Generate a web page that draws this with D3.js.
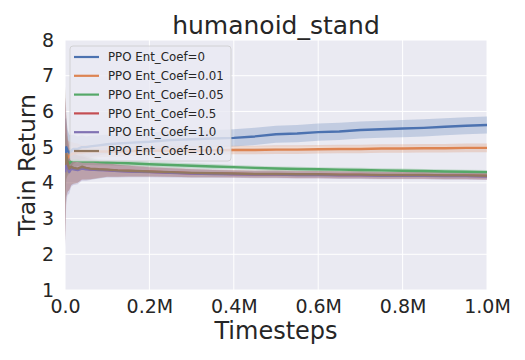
<!DOCTYPE html>
<html>
<head>
<meta charset="utf-8">
<script src="https://cdn.jsdelivr.net/npm/d3@7"></script>
<style>
  body { margin: 0; background: #fff; }
  svg { font-family: "DejaVu Sans", sans-serif; }
</style>
</head>
<body>
<div id="chart"></div>
<script>
// timesteps (millions)
const steps = [0, 0.003, 0.006, 0.01, 0.015, 0.02, 0.03, 0.04, 0.05, 0.06, 0.08, 0.1, 0.125, 0.15, 0.2, 0.25,
    0.3, 0.35, 0.4, 0.45, 0.5, 0.55, 0.6, 0.65, 0.7, 0.75, 0.8, 0.85, 0.9, 0.95, 1.0];

const labels = ['PPO Ent_Coef=0', 'PPO Ent_Coef=0.01', 'PPO Ent_Coef=0.05',
    'PPO Ent_Coef=0.5', 'PPO Ent_Coef=1.0', 'PPO Ent_Coef=10.0'];

// mean return per run
const mean0 = [4.6, 5.0, 4.9, 4.85, 4.9, 4.95, 4.95, 5.0, 5.0, 5.02, 5.05, 5.08, 5.1, 5.12, 5.15, 5.2,
    5.22, 5.24, 5.26, 5.3, 5.36, 5.38, 5.42, 5.44, 5.48, 5.5, 5.52, 5.54, 5.57, 5.6, 5.62];
const mean001 = [4.5, 4.8, 4.7, 4.75, 4.8, 4.82, 4.85, 4.85, 4.86, 4.87, 4.88, 4.88, 4.88, 4.89, 4.9, 4.9,
    4.9, 4.91, 4.92, 4.92, 4.93, 4.93, 4.94, 4.95, 4.95, 4.96, 4.96, 4.97, 4.97, 4.98, 4.98];
const mean005 = [4.4, 4.7, 4.6, 4.55, 4.6, 4.62, 4.62, 4.6, 4.6, 4.6, 4.58, 4.57, 4.56, 4.55, 4.52, 4.5,
    4.48, 4.46, 4.44, 4.42, 4.4, 4.39, 4.38, 4.37, 4.36, 4.35, 4.34, 4.33, 4.32, 4.31, 4.3];
const mean05 = [4.4, 4.7, 4.5, 4.35, 4.42, 4.4, 4.38, 4.42, 4.4, 4.38, 4.37, 4.36, 4.34, 4.33, 4.31, 4.29,
    4.27, 4.26, 4.25, 4.24, 4.24, 4.23, 4.23, 4.22, 4.22, 4.21, 4.21, 4.21, 4.2, 4.2, 4.19];
const mean1 = [4.3, 4.6, 4.45, 4.3, 4.4, 4.38, 4.36, 4.4, 4.38, 4.37, 4.36, 4.35, 4.33, 4.32, 4.3, 4.28,
    4.26, 4.25, 4.24, 4.23, 4.23, 4.22, 4.22, 4.21, 4.21, 4.2, 4.2, 4.2, 4.19, 4.19, 4.18];
const mean10 = [4.5, 4.8, 4.55, 4.4, 4.45, 4.42, 4.4, 4.45, 4.42, 4.4, 4.38, 4.37, 4.35, 4.34, 4.32, 4.3,
    4.28, 4.27, 4.26, 4.25, 4.25, 4.24, 4.24, 4.23, 4.23, 4.22, 4.22, 4.22, 4.21, 4.21, 4.2];

// spread (shaded band half-width)
const sd0 = [1.2, 0.8, 0.6, 0.5, 0.45, 0.4, 0.35, 0.33, 0.3, 0.3, 0.28, 0.27, 0.26, 0.25, 0.25, 0.25,
    0.24, 0.24, 0.24, 0.24, 0.24, 0.24, 0.24, 0.24, 0.24, 0.24, 0.24, 0.24, 0.24, 0.24, 0.24];
const sd001 = [1.2, 0.7, 0.5, 0.4, 0.35, 0.3, 0.25, 0.2, 0.2, 0.18, 0.16, 0.15, 0.15, 0.14, 0.14, 0.13,
    0.13, 0.13, 0.12, 0.12, 0.12, 0.12, 0.12, 0.12, 0.12, 0.12, 0.12, 0.12, 0.12, 0.12, 0.12];
const sd005 = [1.0, 0.6, 0.4, 0.3, 0.25, 0.2, 0.15, 0.12, 0.1, 0.1, 0.09, 0.08, 0.08, 0.08, 0.07, 0.07,
    0.07, 0.07, 0.06, 0.06, 0.06, 0.06, 0.06, 0.06, 0.06, 0.06, 0.06, 0.06, 0.06, 0.06, 0.06];
const sd05 = [2.0, 1.1, 0.75, 0.55, 0.48, 0.42, 0.38, 0.33, 0.3, 0.28, 0.23, 0.19, 0.17, 0.15, 0.13, 0.12,
    0.11, 0.1, 0.1, 0.1, 0.1, 0.1, 0.1, 0.1, 0.1, 0.1, 0.1, 0.1, 0.1, 0.1, 0.1];
const sd1 = [2.1, 1.15, 0.8, 0.6, 0.5, 0.44, 0.4, 0.34, 0.32, 0.29, 0.24, 0.2, 0.18, 0.16, 0.14, 0.13,
    0.12, 0.11, 0.1, 0.1, 0.1, 0.1, 0.1, 0.1, 0.1, 0.1, 0.1, 0.1, 0.1, 0.1, 0.1];
const sd10 = [2.2, 1.2, 0.8, 0.6, 0.5, 0.45, 0.4, 0.35, 0.33, 0.3, 0.25, 0.2, 0.18, 0.16, 0.14, 0.13,
    0.12, 0.11, 0.1, 0.1, 0.1, 0.1, 0.1, 0.1, 0.1, 0.1, 0.1, 0.1, 0.1, 0.1, 0.1];

const xTicks = [0, 0.2, 0.4, 0.6, 0.8, 1.0];
const xTickLabels = ['0.0', '0.2M', '0.4M', '0.6M', '0.8M', '1.0M'];
const yTicks = [1, 2, 3, 4, 5, 6, 7, 8];

const means = [mean0, mean001, mean005, mean05, mean1, mean10];
const sds = [sd0, sd001, sd005, sd05, sd1, sd10];
const colours = ['#4C72B0', '#DD8452', '#55A868', '#C44E52', '#8172B3', '#937860'];

const width = 525;
const height = 360;
const margin = {top: 40, right: 38, bottom: 70, left: 65};
const textColour = '#262626';

const svg = d3.select('#chart')
    .append('svg')
        .attr('width', width)
        .attr('height', height);

// SCALES
const x = d3.scaleLinear()
    .domain([0, 1])
    .range([margin.left, width - margin.right]);
const y = d3.scaleLinear()
    .domain([1, 8])
    .range([height - margin.bottom, margin.top]);

// background + grid
svg.append('rect')
    .attr('x', margin.left)
    .attr('y', margin.top)
    .attr('width', x(1) - x(0))
    .attr('height', y(1) - y(8))
    .attr('fill', '#EAEAF2');

const grid = svg.append('g').attr('stroke', '#fff').attr('stroke-width', 1);
grid.selectAll('.gx')
    .data(xTicks)
    .join('line')
        .attr('x1', d => x(d)).attr('x2', d => x(d))
        .attr('y1', y(1)).attr('y2', y(8));
grid.selectAll('.gy')
    .data(yTicks)
    .join('line')
        .attr('x1', x(0)).attr('x2', x(1))
        .attr('y1', d => y(d)).attr('y2', d => y(d));

// DRAWING TOOLS
const line = d3.line()
    .x((d, i) => x(steps[i]))
    .y(d => y(d));

const area = sd => d3.area()
    .x((d, i) => x(steps[i]))
    .y0((d, i) => y(d - sd[i]))
    .y1((d, i) => y(d + sd[i]));

svg.append('clipPath')
    .attr('id', 'clip')
    .append('rect')
        .attr('x', margin.left)
        .attr('y', margin.top)
        .attr('width', x(1) - x(0))
        .attr('height', y(1) - y(8));

const plot = svg.append('g').attr('clip-path', 'url(#clip)');

// bands
means.forEach((m, k) => {
    plot.append('path')
        .datum(m)
            .attr('fill', colours[k])
            .attr('opacity', 0.25)
            .attr('d', area(sds[k]));
});

// lines
means.forEach((m, k) => {
    plot.append('path')
        .datum(m)
            .attr('fill', 'none')
            .attr('stroke', colours[k])
            .attr('stroke-width', 2.4)
            .attr('stroke-linejoin', 'round')
            .attr('d', line);
});

// AXES
const xAxis = svg.append('g')
    .attr('transform', `translate(0,${y(1)})`)
    .call(d3.axisBottom(x).tickValues(xTicks).tickFormat((d, i) => xTickLabels[i]).tickSize(0).tickPadding(9.5))
    .call(g => g.select('.domain').remove());
xAxis.selectAll('.tick text')
    .attr('fill', textColour)
    .style('font-size', '19px')
    .style('font-family', '"DejaVu Sans", sans-serif');

const yAxis = svg.append('g')
    .attr('transform', `translate(${x(0)},0)`)
    .call(d3.axisLeft(y).tickValues(yTicks).tickFormat(d3.format('d')).tickSize(0).tickPadding(11))
    .call(g => g.select('.domain').remove());
yAxis.selectAll('.tick text')
    .attr('fill', textColour)
    .style('font-size', '19px')
    .style('font-family', '"DejaVu Sans", sans-serif');

// titles
svg.append('text')
    .attr('x', (x(0) + x(1)) / 2)
    .attr('y', 34)
    .attr('text-anchor', 'middle')
    .attr('fill', textColour)
    .style('font-size', '25px')
    .text('humanoid_stand');

svg.append('text')
    .attr('x', (x(0) + x(1)) / 2)
    .attr('y', 339)
    .attr('text-anchor', 'middle')
    .attr('fill', textColour)
    .style('font-size', '24px')
    .text('Timesteps');

svg.append('text')
    .attr('transform', `translate(35,${(y(1) + y(8)) / 2}) rotate(-90)`)
    .attr('text-anchor', 'middle')
    .attr('fill', textColour)
    .style('font-size', '23.5px')
    .text('Train Return');

// legend
const legend = svg.append('g').attr('transform', 'translate(70,46)');
legend.append('rect')
    .attr('width', 161)
    .attr('height', 115)
    .attr('rx', 3)
    .attr('fill', '#EAEAF2')
    .attr('fill-opacity', 0.8)
    .attr('stroke', '#cccccc')
    .attr('stroke-width', 0.8);

const items = legend.selectAll('.item')
    .data(labels)
    .join('g')
        .attr('transform', (d, i) => `translate(0,${11 + i * 18.8})`);
items.append('line')
    .attr('x1', 4).attr('x2', 29)
    .attr('stroke', (d, i) => colours[i])
    .attr('stroke-width', 2.2);
items.append('text')
    .attr('x', 38)
    .attr('dy', '0.35em')
    .attr('fill', textColour)
    .style('font-size', '11.8px')
    .text(d => d);
</script>
</body>
</html>
